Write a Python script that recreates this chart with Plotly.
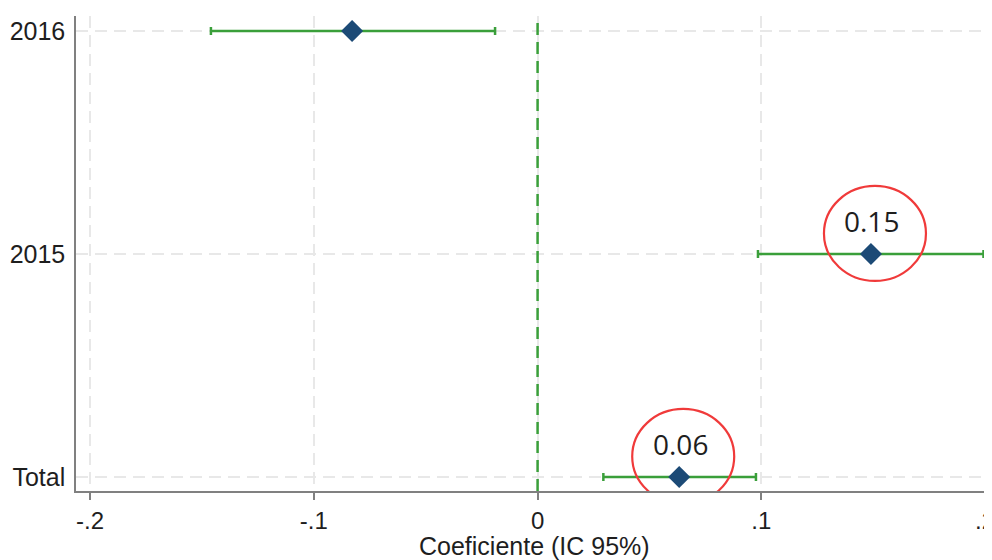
import plotly.graph_objects as go

# coefficient plot: estimates with 95% CI
labels = ["Total", "2015", "2016"]
coef = [0.0633, 0.149, -0.0829]
ci_low = [0.0294, 0.0985, -0.146]
ci_high = [0.0976, 0.1993, -0.0190]
x_ticks = [-0.2, -0.1, 0, 0.1, 0.2]
x_ticktext = ["-.2", "-.1", "0", ".1", ".2"]
highlighted = ["Total", "2015"]

GREEN = "#3a9f3a"
NAVY = "#1c4a76"
RED = "#f03a3a"
TXT = "#1e1e1e"
GRID = "#e8e8e8"

fig = go.Figure()
fig.add_trace(go.Scatter(
    x=coef, y=labels, mode="markers",
    marker=dict(symbol="diamond", size=17, color=NAVY),
    error_x=dict(type="data", symmetric=False,
                 array=[h - c for h, c in zip(ci_high, coef)],
                 arrayminus=[c - l for c, l in zip(coef, ci_low)],
                 color=GREEN, thickness=2.5, width=4),
    showlegend=False,
))

# reference line at zero
fig.add_vline(x=0, line=dict(color=GREEN, width=2.5, dash="12px,7px"))

# red circled labels on selected estimates (category index as y)
for lab in highlighted:
    i = labels.index(lab)
    c = coef[i]
    fig.add_annotation(x=c, y=i, text=f"{c:.2f}", showarrow=False,
                       yshift=33, xshift=1,
                       font=dict(family="Open Sans", size=28, color=TXT))
    fig.add_shape(type="circle", xref="x", yref="y",
                  xsizemode="pixel", ysizemode="pixel",
                  xanchor=c, yanchor=i,
                  x0=-47, x1=55, y0=-27, y1=68,
                  line=dict(color=RED, width=2.2))

# axis title placed by hand so it sits close under the tick labels
fig.add_annotation(text="Coeficiente (IC 95%)", xref="paper", yref="paper",
                   x=0.5, y=-0.116, yanchor="middle", showarrow=False,
                   font=dict(size=25, color=TXT))

# page body adds 8px of margin, so the figure is 8px smaller than the window
fig.update_layout(
    width=984, height=552,
    margin=dict(l=68, r=0, t=8, b=69),
    paper_bgcolor="white", plot_bgcolor="white",
    font=dict(family="Liberation Sans, Arial", size=25, color=TXT),
    xaxis=dict(
        range=[-0.2063, 0.2031], tickvals=x_ticks, ticktext=x_ticktext,
        showgrid=True, gridcolor=GRID, griddash="12px,7px", gridwidth=1.5,
        showline=True, linecolor="#808080", linewidth=1.5,
        ticks="outside", ticklen=7, tickcolor="#808080", tickwidth=1.5,
        zeroline=False, automargin=False, ticklabeloverflow="allow",
        tickfont=dict(size=24),
    ),
    yaxis=dict(
        type="category", categoryorder="array", categoryarray=labels,
        range=[-0.063, 2.067],
        showgrid=True, gridcolor=GRID, griddash="12px,7px", gridwidth=1.5,
        showline=True, linecolor="#808080", linewidth=1.5,
        ticks="", ticklabelstandoff=4, zeroline=False, automargin=False,
        tickfont=dict(size=25),
    ),
)

fig.write_html("out.html")
